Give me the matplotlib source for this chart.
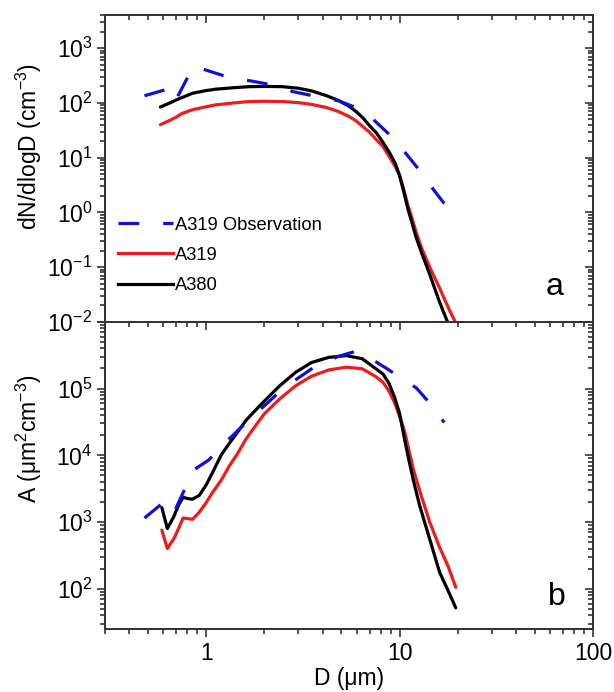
import matplotlib
matplotlib.use('Agg')
import matplotlib.pyplot as plt
from matplotlib.ticker import LogLocator, NullFormatter, FixedLocator, FixedFormatter
from matplotlib.lines import Line2D

plt.rcParams['font.family'] = ['Liberation Sans', 'DejaVu Sans']
plt.rcParams['mathtext.fontset'] = 'custom'
plt.rcParams['mathtext.rm'] = 'Liberation Sans'
plt.rcParams['mathtext.it'] = 'Liberation Sans:italic'
plt.rcParams['mathtext.default'] = 'regular'

# ---------------- data ----------------
# observation (shared diameters)
d_obs = [0.48, 0.63, 0.69, 0.86, 1.03, 1.32, 1.7, 2.3, 2.8, 3.6, 4.8, 5.9, 7.3, 8.7, 10.4, 12.2, 14.3, 17.0]
n_obs = [135, 178, 105, 470, 384, 290, 252, 207, 161, 134, 110, 83, 50, 28, 13.9, 6.9, 3.2, 1.45]
a_obs = [1150, 2200, 1500, 6000, 8500, 17800, 36000, 80000, 126000, 208000, 302000, 360000,
         267000, 194000, 138000, 102000, 60500, 31000]

# panel a: number size distribution (model)
d_num = [0.58, 0.65, 0.70, 0.75, 0.85, 1.0, 1.12, 1.4, 1.67, 2.0, 2.48, 3.0, 3.5, 4.2, 4.8,
         5.5, 6.0, 6.5, 7.0, 7.6, 8.2, 8.9, 9.5, 10.0, 10.5, 11.0, 11.5, 12.2, 13.0, 14.3,
         16.0, 18.0, 19.5]
n_a319 = [40, 48, 55, 64, 75, 85, 92, 100, 106, 107, 106, 101, 94, 82, 70,
          56, 46, 36, 29, 21, 16, 10, 6.8, 4.8, 2.6, 1.4, 0.85, 0.42, 0.22, 0.10,
          0.043, 0.017, 0.0095]
n_a380 = [84, 100, 113, 125, 150, 168, 178, 190, 198, 200, 198, 185, 166, 135, 112,
          86, 68, 52, 38, 28, 19, 12, 7.8, 4.6, 2.4, 1.2, 0.7, 0.34, 0.18, 0.074,
          0.024, 0.0085, 0.004]

# panel b: surface area distribution (model)
d_area = [0.59, 0.63, 0.68, 0.72, 0.76, 0.8, 0.85, 0.92, 1.0, 1.08, 1.2, 1.32, 1.45, 1.6,
          1.8, 2.0, 2.4, 2.9, 3.5, 4.3, 5.3, 6.4, 7.5, 8.2, 8.8, 9.4, 10.0, 10.6, 11.2,
          11.8, 12.7, 14.3, 16.1, 17.8, 19.5]
a_a319 = [760, 400, 560, 800, 1150, 1130, 1100, 1400, 1950, 2790, 4300, 7000, 10500, 17200,
          27800, 42000, 70000, 110000, 153000, 190000, 209000, 198000, 152000, 124000,
          92000, 62000, 38000, 23000, 11500, 6000, 2950, 1000, 417, 218, 105]
a_a380 = [1650, 800, 1200, 1800, 2350, 2250, 2200, 2500, 3600, 5550, 10300, 15200, 22000,
          33000, 47500, 65000, 110000, 175000, 245000, 293000, 311000, 280000, 200000,
          165000, 120000, 75000, 42000, 17500, 8100, 4100, 1750, 556, 176, 94, 52]

ytick_a = [1e-2, 1e-1, 1e0, 1e1, 1e2, 1e3]
ytick_a_labels = ['$10^{-2}$', '$10^{-1}$', '$10^{0}$', '$10^{1}$', '$10^{2}$', '$10^{3}$']
ytick_b = [1e2, 1e3, 1e4, 1e5, 1e6]
ytick_b_labels = ['$10^{2}$', '$10^{3}$', '$10^{4}$', '$10^{5}$', '']
xtick = [1, 10, 100]
xtick_labels = ['1', '10', '100']

# ---------------- style ----------------
BLUE = '#1010d8'
RED = '#ee1c1c'
BLACK = '#000000'
SPINE = '#333333'
LW = 2.3
FS = 16.5
DASH = (6.5, 7.5)

fig = plt.figure(figsize=(6.14, 6.92), dpi=100)
axa = fig.add_axes([0.171, 0.535, 0.795, 0.443])
axb = fig.add_axes([0.171, 0.091, 0.795, 0.444])


def minor_loc():
    return LogLocator(base=10, subs=range(2, 10), numticks=30)


def set_ticks(axis, major, labels):
    axis.set_major_locator(FixedLocator(major))
    axis.set_minor_locator(minor_loc())
    if labels is None:
        axis.set_major_formatter(NullFormatter())
    else:
        axis.set_major_formatter(FixedFormatter(labels))
    axis.set_minor_formatter(NullFormatter())


def style(ax, yt, ytl, show_x, ylim):
    ax.set_xscale('log')
    ax.set_yscale('log')
    ax.set_xlim(0.3, 100)
    ax.set_ylim(*ylim)
    set_ticks(ax.yaxis, yt, ytl)
    set_ticks(ax.xaxis, xtick, xtick_labels if show_x else None)
    ax.tick_params(which='both', direction='out', top=False, right=False,
                   color=SPINE, width=1.2, labelsize=FS, pad=3)
    ax.tick_params(which='major', length=6)
    ax.tick_params(which='minor', length=3.5)

    # mirrored top axis, inward ticks
    tx = ax.twiny()
    tx.set_xscale('log')
    tx.set_xlim(ax.get_xlim())
    set_ticks(tx.xaxis, xtick, None)
    tx.tick_params(which='major', direction='in', color=SPINE, width=1.2, length=6)
    tx.tick_params(which='minor', direction='in', color=SPINE, width=1.2, length=3.5)

    # mirrored right axis, inward ticks
    ty = ax.twinx()
    ty.set_yscale('log')
    ty.set_ylim(ax.get_ylim())
    set_ticks(ty.yaxis, yt, None)
    ty.tick_params(which='major', direction='in', color=SPINE, width=1.2, length=6)
    ty.tick_params(which='minor', direction='in', color=SPINE, width=1.2, length=3.5)

    for a in (ax, tx, ty):
        for s in a.spines.values():
            s.set_color(SPINE)
            s.set_linewidth(1.1)


# ---------------- panel a ----------------
axa.plot(d_num, n_a319, color=RED, lw=LW, solid_capstyle='round', zorder=3)
axa.plot(d_num, n_a380, color=BLACK, lw=LW, solid_capstyle='round', zorder=4)
axa.plot(d_obs, n_obs, color=BLUE, lw=LW, dashes=DASH, zorder=5)
style(axa, ytick_a, ytick_a_labels, False, (1e-2, 4e3))
axa.set_ylabel('dN/dlogD (cm$^{-3}$)', fontsize=FS)
axa.yaxis.set_label_coords(-0.124, 0.573)
axa.text(0.922, 0.088, 'a', transform=axa.transAxes, fontsize=23, ha='center', va='baseline')

handles = [Line2D([], [], color=BLUE, lw=LW, dashes=DASH),
           Line2D([], [], color=RED, lw=LW),
           Line2D([], [], color=BLACK, lw=LW)]
axa.legend(handles, ['A319 Observation', 'A319', 'A380'], loc='upper left',
           bbox_to_anchor=(0.027, 0.343), frameon=False, fontsize=13.2,
           handlelength=3.0, handletextpad=0.12, labelspacing=0.72,
           borderpad=0, borderaxespad=0)

# ---------------- panel b ----------------
axb.plot(d_area, a_a319, color=RED, lw=LW, solid_capstyle='round', zorder=3)
axb.plot(d_area, a_a380, color=BLACK, lw=LW, solid_capstyle='round', zorder=4)
axb.plot(d_obs, a_obs, color=BLUE, lw=LW, dashes=DASH, zorder=5)
style(axb, ytick_b, ytick_b_labels, True, (25, 1e6))
axb.set_ylabel('A (μm$^{2}$cm$^{-3}$)', fontsize=FS)
axb.yaxis.set_label_coords(-0.124, 0.62)
axb.set_xlabel('D (μm)', fontsize=FS, labelpad=2)
axb.text(0.926, 0.078, 'b', transform=axb.transAxes, fontsize=23, ha='center', va='baseline')

fig.savefig('out.png', dpi=100)
